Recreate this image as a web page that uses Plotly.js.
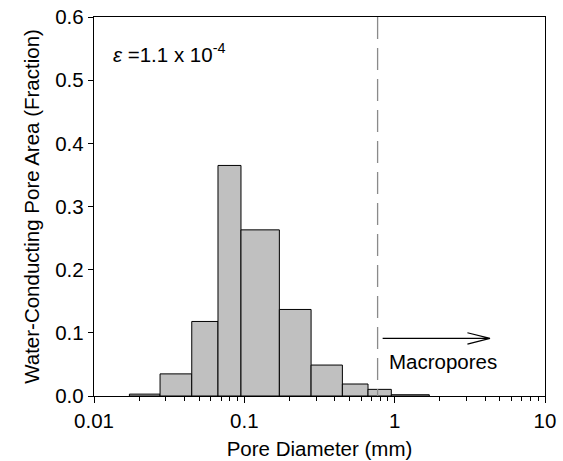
<!DOCTYPE html>
<html>
<head>
<meta charset="utf-8">
<script src="https://cdn.plot.ly/plotly-3.0.1.min.js"></script>
<style>html,body{margin:0;padding:0;background:#fff;}#chart{width:563px;height:461px;}</style>
</head>
<body>
<div id="chart"></div>
<script>
// Bin edges of pore diameter (mm) and water-conducting pore area fraction per bin
const binEdges = [0.0172, 0.0275, 0.0447, 0.0668, 0.095, 0.171, 0.278, 0.449, 0.665, 0.95, 1.70];
const areaFraction = [0.003, 0.035, 0.118, 0.365, 0.263, 0.137, 0.049, 0.019, 0.0105, 0.002];
const macroporeLimit = 0.77;   // mm, dashed line
const xTickVals = [0.01, 0.1, 1, 10];
const xTickText = ['0.01', '0.1', '1', '10'];
const epsilonText = '<i>ε</i> =1.1 x 10<sup>-4</sup>';
const macroText = 'Macropores';

const FONT = 'Liberation Sans, Arial, sans-serif';
const FS = 20.5;

const traces = [];
for (let i = 0; i < areaFraction.length; i++) {
  const l = binEdges[i], r = binEdges[i + 1], h = areaFraction[i];
  traces.push({
    type: 'scatter', mode: 'lines',
    x: [l, l, r, r, l], y: [0, h, h, 0, 0],
    fill: 'toself', fillcolor: '#c0c0c0',
    line: {color: '#000000', width: 1},
    hoverinfo: 'skip', showlegend: false
  });
}
traces.push({
  type: 'scatter', mode: 'lines',
  x: [macroporeLimit, macroporeLimit], y: [0.6, 0],
  line: {color: '#8a8a8a', width: 1.3, dash: '22px,9px'},
  hoverinfo: 'skip', showlegend: false
});

// minor ticks at 2..9 of each decade
const minorVals = [];
for (let d = -2; d < 1; d++) for (let k = 2; k <= 9; k++) minorVals.push(k * Math.pow(10, d));

// arrow geometry in paper coordinates
const ax0 = 0.640, ax1 = 0.878, ay = 0.152, hx = 0.828, hy = 0.015;

const layout = {
  width: 563, height: 461,
  margin: {l: 94, r: 18, t: 17, b: 65},
  paper_bgcolor: '#ffffff', plot_bgcolor: '#ffffff',
  font: {family: FONT, size: FS, color: '#000'},
  showlegend: false,
  xaxis: {
    type: 'log', range: [-2, 1],
    tickmode: 'array', tickvals: xTickVals, ticktext: xTickText,
    ticks: 'outside', ticklen: 6, tickwidth: 1, tickcolor: '#000',
    minor: {tickmode: 'array', tickvals: minorVals, ticks: 'outside', ticklen: 3.5, tickwidth: 1, tickcolor: '#000', showgrid: false},
    showgrid: false, zeroline: false,
    showline: true, linecolor: '#000', linewidth: 1.2, mirror: true,
    tickfont: {family: FONT, size: FS},
    title: {text: 'Pore Diameter (mm)', font: {family: FONT, size: FS}, standoff: 10},
    automargin: false
  },
  yaxis: {
    range: [0, 0.6], dtick: 0.1, tick0: 0, tickformat: '.1f',
    ticks: 'outside', ticklen: 5, tickwidth: 1, tickcolor: '#000',
    showgrid: false, zeroline: false,
    showline: true, linecolor: '#000', linewidth: 1.2, mirror: true,
    tickfont: {family: FONT, size: FS},
    title: {text: 'Water-Conducting Pore Area (Fraction)', font: {family: FONT, size: FS}, standoff: 10},
    automargin: false
  },
  shapes: [{
    type: 'path', xref: 'paper', yref: 'paper',
    path: `M ${ax0} ${ay} L ${ax1} ${ay} M ${hx} ${ay + hy} L ${ax1} ${ay} L ${hx} ${ay - hy}`,
    line: {color: '#000', width: 1.2}
  }],
  annotations: [
    {xref: 'paper', yref: 'paper', x: 0.037, y: 0.905, xanchor: 'left', yanchor: 'middle',
     text: epsilonText, showarrow: false, font: {family: FONT, size: FS}},
    {xref: 'paper', yref: 'paper', x: 0.650, y: 0.0905, xanchor: 'left', yanchor: 'middle',
     text: macroText, showarrow: false, font: {family: FONT, size: FS}}
  ]
};

Plotly.newPlot('chart', traces, layout, {displayModeBar: false, staticPlot: true});
</script>
</body>
</html>
